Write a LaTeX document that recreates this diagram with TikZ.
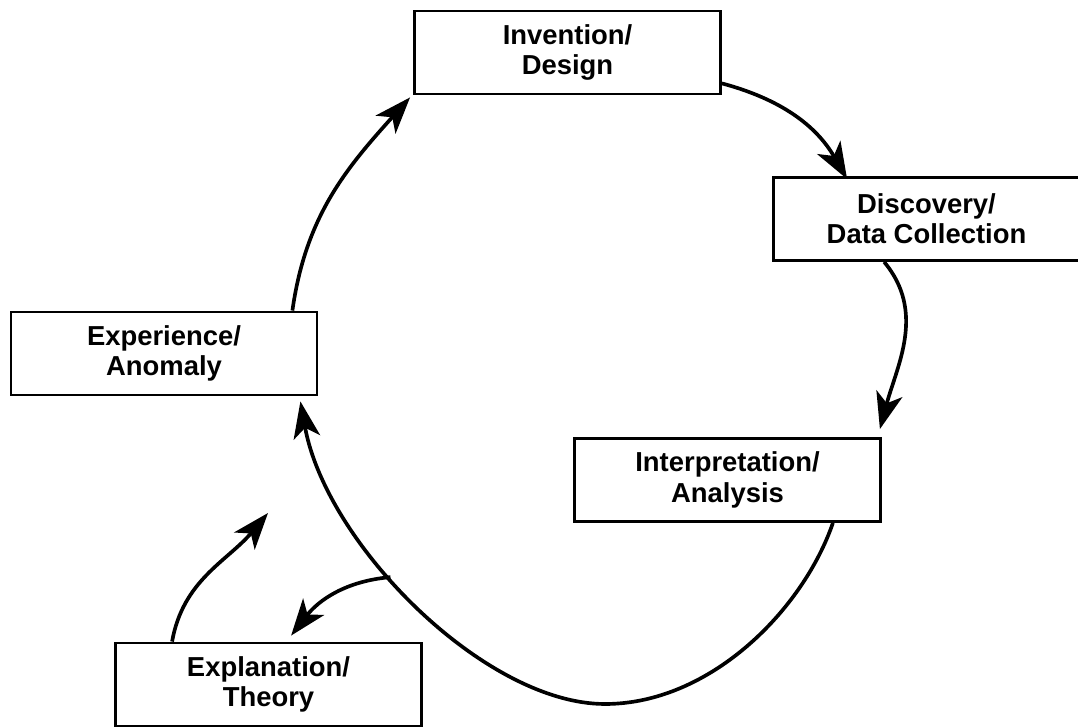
\documentclass[tikz,border=0pt]{standalone}
\usepackage{fontspec}
\setsansfont{Liberation Sans}
\usetikzlibrary{arrows.meta,calc}
\begin{document}
\begin{tikzpicture}[x=0.025cm,y=0.025cm,
    stage/.style={draw,line width=2pt,minimum width=306*0.025cm,minimum height=83*0.025cm,
      align=center,inner sep=0pt,font=\sffamily\bfseries\fontsize{19.5}{21.5}\selectfont},
    flow/.style={line width=2.6pt,-{Stealth[length=26pt,width=19pt,inset=7pt]}}]
    \useasboundingbox (0,0) rectangle (1078,728);
    %% boxes
    \node[stage] (inv) at (567.5,675.5) {Invention/\\Design};
    \node[stage] (dis) at (926.5,509) {Discovery/\\Data Collection};
    \node[stage] (exp) at (164,374.5) {Experience/\\Anomaly};
    \node[stage] (int) at (727.5,248) {Interpretation/\\Analysis};
    \node[stage] (expl) at (268.5,43.5) {Explanation/\\Theory};
    \coordinate (low) at (605,24);
    \coordinate (hint) at (268,215);
    %% cycle
    \draw[flow] ($(exp.north east)+(-26,0)$) to[out=82,in=228] ($(inv.south west)+(-3,-2)$);
    \draw[flow] ($(inv.south east)+(0,12)$) to[out=-15,in=120] ($(dis.north west)+(75,-3)$);
    \draw[flow] ($(dis.south west)+(112,0)$) to[out=-50,in=75] ($(int.north east)+(-2,8)$);
    \draw[flow] ($(int.south east)+(-49,0)$) .. controls (803,118) and (710,24) .. (low)
        .. controls (485,24) and (326,184) .. coordinate[pos=0.58] (split) ($(exp.south east)+(-18,-5)$);
    %% branch
    \draw[flow] (split) to[out=185,in=52] ($(expl.north west)+(177,6)$);
    \draw[flow] ($(expl.north west)+(58,0)$) to[out=80,in=230] (hint);
\end{tikzpicture}
\end{document}
